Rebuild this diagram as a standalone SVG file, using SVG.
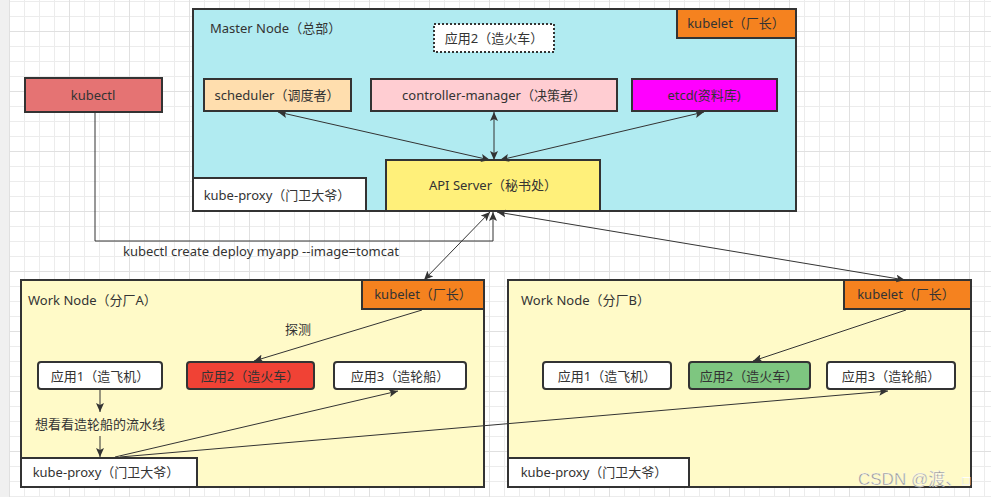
<svg xmlns="http://www.w3.org/2000/svg" width="991" height="497" viewBox="0 0 991 497">
  <defs>
    <pattern id="minor" patternUnits="userSpaceOnUse" x="9" y="1" width="15" height="15">
      <path d="M0.5,0 V15 M0,0.5 H15" stroke="#ececec" stroke-width="1" fill="none"/>
    </pattern>
    <pattern id="major" patternUnits="userSpaceOnUse" x="9" y="31" width="60" height="60">
      <path d="M0.5,0 V60 M0,0.5 H60" stroke="#e0e0e0" stroke-width="1" fill="none"/>
    </pattern>
    <marker id="arr" viewBox="0 0 9 8" refX="9" refY="4" markerWidth="9" markerHeight="8" markerUnits="userSpaceOnUse" orient="auto-start-reverse">
      <path d="M0,0 L9,4 L0,8 L2,4 z" fill="#333"/>
    </marker>
    <style>
      .box { stroke: #333; stroke-width: 2; }
      .app { fill: #fff; stroke: #333; stroke-width: 2; }
      .t { font-family: "Noto Sans", "Noto Sans CJK SC", sans-serif; font-size: 13px; fill: #333; dominant-baseline: central; }
      .c { text-anchor: middle; }
      .ln { stroke: #333; stroke-width: 1; fill: none; }
    </style>
  </defs>

  <rect width="991" height="497" fill="#ffffff"/>
  <rect width="991" height="497" fill="url(#minor)"/>
  <rect width="991" height="497" fill="url(#major)"/>
  <rect x="0" y="0" width="9" height="497" fill="#f0f0f0"/>

  <g id="master-node">
    <rect class="box" x="193" y="9" width="603" height="202" fill="#b1ebf1"/>
    <text class="t" x="210" y="28">Master Node（总部）</text>
  </g>
  <g id="master-app2">
    <rect x="434" y="24" width="120" height="28" fill="#fff" stroke="#333" stroke-width="2" stroke-dasharray="2 2"/>
    <text class="t c" x="494" y="38">应用2（造火车）</text>
  </g>
  <g id="master-kubelet">
    <rect class="box" x="677" y="9" width="119" height="29" fill="#f5821f"/>
    <text class="t c" x="736" y="23">kubelet（厂长）</text>
  </g>
  <g id="scheduler">
    <rect class="box" x="204" y="79" width="147" height="32" fill="#ffdeae"/>
    <text class="t c" x="277" y="95">scheduler（调度者）</text>
  </g>
  <g id="controller-manager">
    <rect class="box" x="371" y="79" width="246" height="32" fill="#ffcdd2"/>
    <text class="t c" x="494" y="95">controller-manager（决策者）</text>
  </g>
  <g id="etcd">
    <rect class="box" x="632" y="79" width="145" height="32" fill="#ff00ff"/>
    <text class="t c" x="704" y="95">etcd(资料库)</text>
  </g>
  <g id="api-server">
    <rect class="box" x="386" y="160" width="214" height="51" fill="#fff07a"/>
    <text class="t c" x="493" y="185">API Server（秘书处）</text>
  </g>
  <g id="master-kube-proxy">
    <rect class="box" x="193" y="178" width="173" height="33" fill="#fff"/>
    <text class="t c" x="277" y="195">kube-proxy（门卫大爷）</text>
  </g>
  <g id="kubectl">
    <rect class="box" x="25" y="78" width="137" height="34" fill="#e57373"/>
    <text class="t c" x="93" y="95">kubectl</text>
  </g>

  <g id="work-node-a">
    <rect class="box" x="21" y="280" width="463" height="207" fill="#fffac8"/>
    <text class="t" x="28" y="300">Work Node（分厂A）</text>
  </g>
  <g id="kubelet-a">
    <rect class="box" x="362" y="280" width="122" height="29" fill="#f5821f"/>
    <text class="t c" x="423" y="294">kubelet（厂长）</text>
  </g>
  <g id="a-app1">
    <rect class="app" x="38" y="362" width="124" height="27" rx="3"/>
    <text class="t c" x="100" y="376">应用1（造飞机）</text>
  </g>
  <g id="a-app2">
    <rect class="box" x="187" y="362" width="127" height="27" rx="3" fill="#f04235"/>
    <text class="t c" x="250" y="376">应用2（造火车）</text>
  </g>
  <g id="a-app3">
    <rect class="app" x="334" y="362" width="132" height="27" rx="3"/>
    <text class="t c" x="400" y="376">应用3（造轮船）</text>
  </g>
  <g id="a-kube-proxy">
    <rect class="box" x="21" y="458" width="176" height="29" fill="#fff"/>
    <text class="t c" x="106" y="472">kube-proxy（门卫大爷）</text>
  </g>

  <g id="work-node-b">
    <rect class="box" x="508" y="280" width="463" height="207" fill="#fffac8"/>
    <text class="t" x="521" y="300">Work Node（分厂B）</text>
  </g>
  <g id="kubelet-b">
    <rect class="box" x="844" y="280" width="127" height="29" fill="#f5821f"/>
    <text class="t c" x="906" y="294">kubelet（厂长）</text>
  </g>
  <g id="b-app1">
    <rect class="app" x="543" y="362" width="128" height="27" rx="3"/>
    <text class="t c" x="607" y="376">应用1（造飞机）</text>
  </g>
  <g id="b-app2">
    <rect class="box" x="689" y="362" width="121" height="27" rx="3" fill="#7ec680"/>
    <text class="t c" x="749" y="376">应用2（造火车）</text>
  </g>
  <g id="b-app3">
    <rect class="app" x="827" y="362" width="128" height="27" rx="3"/>
    <text class="t c" x="891" y="376">应用3（造轮船）</text>
  </g>
  <g id="b-kube-proxy">
    <rect class="box" x="508" y="458" width="181" height="29" fill="#fff"/>
    <text class="t c" x="594" y="472">kube-proxy（门卫大爷）</text>
  </g>

  <g id="connectors">
    <line class="ln" x1="278" y1="112" x2="490" y2="160" marker-start="url(#arr)" marker-end="url(#arr)"/>
    <line class="ln" x1="494" y1="112" x2="494" y2="160" marker-start="url(#arr)" marker-end="url(#arr)"/>
    <line class="ln" x1="704" y1="112" x2="500" y2="160" marker-start="url(#arr)" marker-end="url(#arr)"/>
    <path class="ln" d="M95,112 V241 H493 V212" marker-end="url(#arr)"/>
    <line class="ln" x1="490" y1="212" x2="424" y2="280" marker-start="url(#arr)" marker-end="url(#arr)"/>
    <line class="ln" x1="497" y1="212" x2="905" y2="280" marker-start="url(#arr)" marker-end="url(#arr)"/>
    <line class="ln" x1="422" y1="310" x2="254" y2="361" marker-end="url(#arr)"/>
    <line class="ln" x1="906" y1="310" x2="753" y2="361" marker-end="url(#arr)"/>
    <line class="ln" x1="100" y1="390" x2="100" y2="412" marker-end="url(#arr)"/>
    <line class="ln" x1="100" y1="436" x2="100" y2="457" marker-end="url(#arr)"/>
    <line class="ln" x1="115" y1="457" x2="398" y2="391" marker-end="url(#arr)"/>
    <line class="ln" x1="120" y1="457" x2="888" y2="391" marker-end="url(#arr)"/>
  </g>

  <g id="labels">
    <text class="t c" x="261" y="251">kubectl create deploy myapp --image=tomcat</text>
    <text class="t c" x="298" y="329">探测</text>
    <text class="t c" x="100" y="424">想看看造轮船的流水线</text>
  </g>

  <text x="858" y="485" font-family="Liberation Sans, Arial, 'Noto Sans CJK SC', sans-serif" font-size="17" fill="#8a8a8a" stroke="#ffffff" stroke-width="0.4" opacity="0.9">CSDN @渡、<tspan font-size="13">□</tspan></text>
</svg>
